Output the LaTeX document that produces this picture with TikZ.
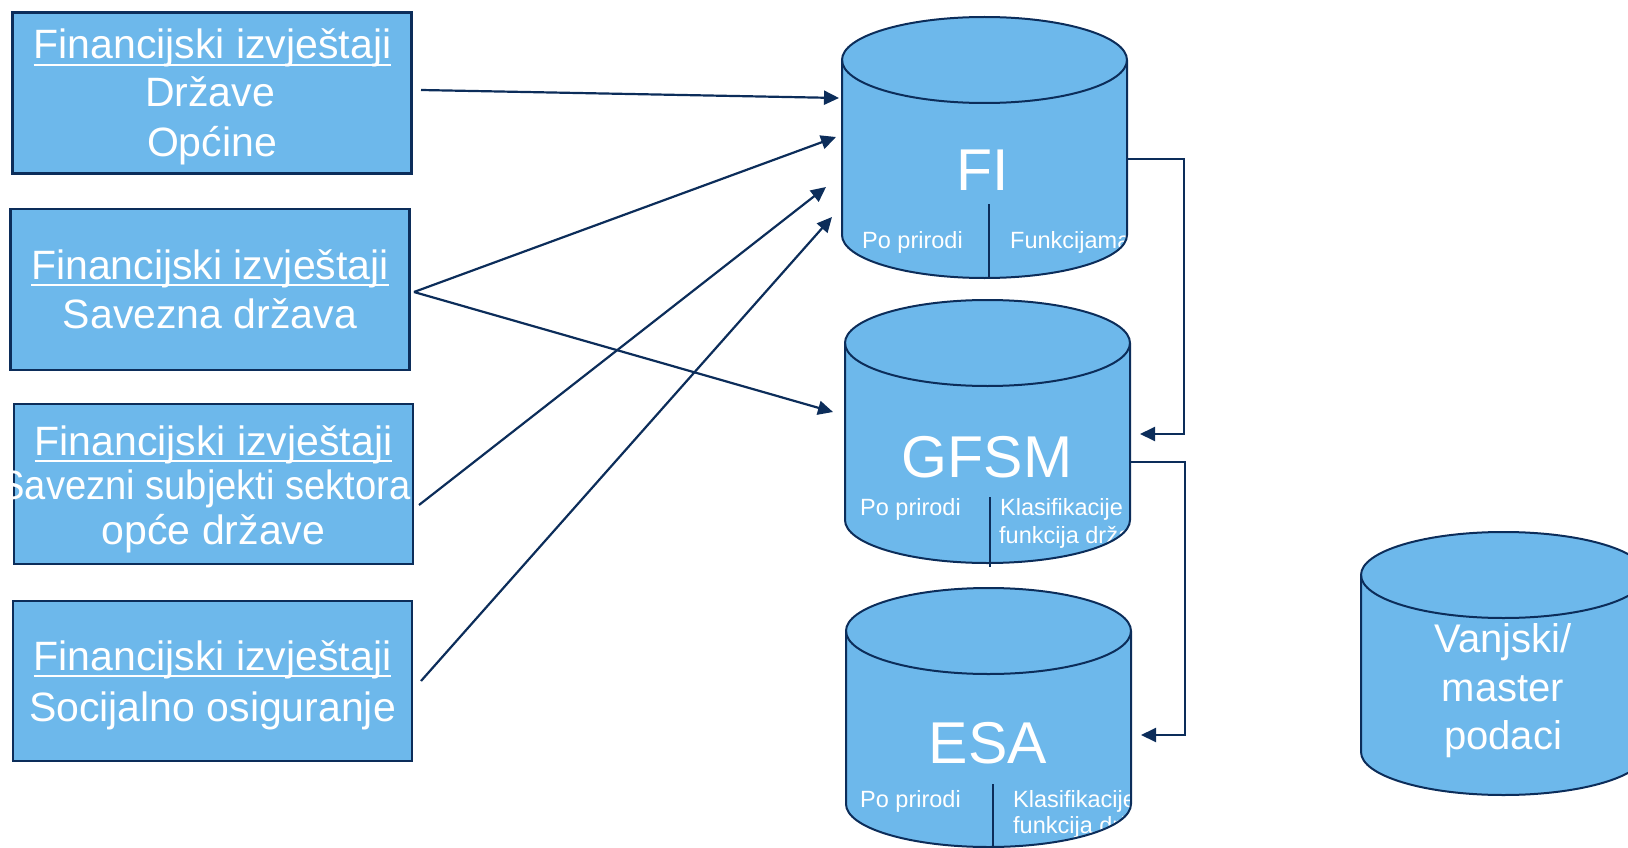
\documentclass[tikz,border=0pt]{standalone}
\usepackage{fontspec}
\setmainfont{Liberation Sans}
\usetikzlibrary{arrows.meta}
\definecolor{fillblue}{RGB}{109,184,235}
\definecolor{navy}{RGB}{12,45,90}
\newcommand\myul[1]{\setbox0\hbox{#1}\rlap{\rule[-7pt]{\wd0}{2pt}}\box0}
\newcommand\cylbody[4]{({#1-#4},#2) -- ({#1-#4},#3) arc[start angle=180,end angle=360,x radius=#4pt,y radius=43pt] -- ({#1+#4},#2) arc[start angle=0,end angle=180,x radius=#4pt,y radius=43pt] -- cycle}
\newcommand\cylfront[4]{({#1-#4},#2) arc[start angle=180,end angle=360,x radius=#4pt,y radius=43pt]}
\tikzset{
  srcbox/.style={draw=navy, line width=2.2pt, fill=fillblue, inner sep=0pt, minimum width=399pt, minimum height=161pt},
  boxtxt/.style={anchor=base, text=white, inner sep=0pt, font=\fontsize{41}{49}\selectfont},
  bigtxt/.style={anchor=base, text=white, inner sep=0pt, font=\fontsize{59}{70}\selectfont},
  smalltxt/.style={anchor=base west, text=white, inner sep=0pt, font=\fontsize{23.5}{28}\selectfont},
  vtxt/.style={anchor=base, text=white, inner sep=0pt, font=\fontsize{40}{49}\selectfont},
  cylline/.style={draw=navy, line width=2pt},
  divider/.style={draw=navy, line width=2pt},
  arr/.style={draw=navy, line width=2.2pt, -{Triangle[length=15pt,width=14pt]}},
  link/.style={draw=navy, line width=2pt, -{Triangle[length=15pt,width=14pt]}}
}
\begin{document}
\begin{tikzpicture}[x=1pt,y=-1pt]
\useasboundingbox (0,0) rectangle (1628,848);
\clip (0,0) rectangle (1628,848);

% source boxes
\node[srcbox] (b1) at (212,93) {};
\node[boxtxt] (b1a) at (212.5,59) {\myul{Financijski izvještaji}};
\node[boxtxt] (b1b) at (210,107) {Države};
\node[boxtxt] (b1c) at (212,157) {Općine};

\node[srcbox] (b2) at (210,289.5) {};
\node[boxtxt] (b2a) at (210,279) {\myul{Financijski izvještaji}};
\node[boxtxt] (b2b) at (210,328) {Savezna država};

\node[srcbox, minimum height=160pt] (b3) at (213.5,484) {};
\node[boxtxt] (b3a) at (213.5,455) {\myul{Financijski izvještaji}};
\node[boxtxt] (b3b) at (205,499) {\scalebox{0.93}[1]{Savezni subjekti sektora}};
\node[boxtxt] (b3c) at (213.5,544) {opće države};

\node[srcbox, minimum height=160pt] (b4) at (212.5,681) {};
\node[boxtxt] (b4a) at (212.5,670) {\myul{Financijski izvještaji}};
\node[boxtxt] (b4b) at (212.5,721) {Socijalno osiguranje};

% FI cylinder
\fill[fillblue] \cylbody{984.5}{60}{235}{142.5};
\begin{scope}
\clip \cylbody{984.5}{60}{235}{142.5};
\node[bigtxt] (fit) at (983,190) {FI};
\node[smalltxt] (fip) at (862,248) {Po prirodi};
\node[smalltxt] (fif) at (1010,248) {Funkcijama};
\draw[divider] (989,204) -- (989,280);
\end{scope}
\draw[cylline] \cylbody{984.5}{60}{235}{142.5};
\draw[cylline] \cylfront{984.5}{60}{235}{142.5};

% GFSM cylinder
\fill[fillblue] \cylbody{987.5}{343}{520}{142.5};
\begin{scope}
\clip \cylbody{987.5}{343}{520}{142.5};
\node[bigtxt] (gft) at (987,477) {GFSM};
\node[smalltxt] (gfp) at (860,515) {Po prirodi};
\node[smalltxt] (gfk) at (1000,515) {Klasifikacije};
\node[smalltxt] (gff) at (999,543) {funkcija države};
\end{scope}
\draw[cylline] \cylbody{987.5}{343}{520}{142.5};
\draw[cylline] \cylfront{987.5}{343}{520}{142.5};
\draw[divider] (990,497) -- (990,567);

% ESA cylinder
\fill[fillblue] \cylbody{988.5}{631}{804}{142.5};
\begin{scope}
\clip \cylbody{988.5}{631}{804}{142.5};
\node[bigtxt] (est) at (988,763) {ESA};
\node[smalltxt] (esp) at (860,807) {Po prirodi};
\node[smalltxt] (esk) at (1013,807) {Klasifikacije};
\node[smalltxt] (esf) at (1013,833) {funkcija države};
\end{scope}
\draw[cylline] \cylbody{988.5}{631}{804}{142.5};
\draw[cylline] \cylfront{988.5}{631}{804}{142.5};
\draw[divider] (993,784) -- (993,850);

% Vanjski cylinder
\fill[fillblue] \cylbody{1503.5}{575}{752}{142.5};
\draw[cylline] \cylbody{1503.5}{575}{752}{142.5};
\draw[cylline] \cylfront{1503.5}{575}{752}{142.5};
\node[vtxt] (v1) at (1503,652) {Vanjski/};
\node[vtxt] (v2) at (1503,701) {master};
\node[vtxt] (v3) at (1503,749) {podaci};

% connector points
\coordinate (b1o) at (421,90);
\coordinate (b2o) at (414,292);
\coordinate (b3o) at (419,505);
\coordinate (b4o) at (421,681);
\coordinate (fi1) at (839,98);
\coordinate (fi2) at (836,137);
\coordinate (fi3) at (826,187);
\coordinate (fi4) at (832,217);
\coordinate (gf1) at (833,412);
\coordinate (fiout) at (1128,159);
\coordinate (gfin) at (1140,434);
\coordinate (gfout) at (1131,462);
\coordinate (esin) at (1141,735);

\draw[arr] (b1o) -- (fi1);
\draw[arr] (b2o) -- (fi2);
\draw[arr] (b2o) -- (gf1);
\draw[arr] (b3o) -- (fi3);
\draw[arr] (b4o) -- (fi4);

\draw[link] (fiout) -- (1184,159) |- (gfin);
\draw[link] (gfout) -- (1185,462) |- (esin);
\end{tikzpicture}
\end{document}
